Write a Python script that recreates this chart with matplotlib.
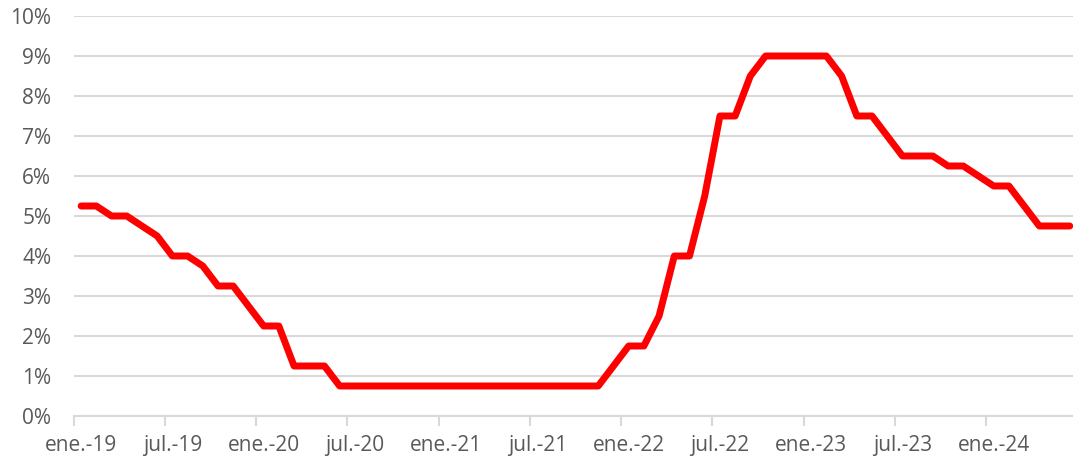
import numpy as np
import matplotlib
matplotlib.use('Agg')
import matplotlib.pyplot as plt
from matplotlib.ticker import FixedLocator, FuncFormatter

# monthly policy rate, ene.-19 to jun.-24 (%)
rate = [5.25, 5.25, 5.0, 5.0, 4.75, 4.5, 4.0, 4.0, 3.75, 3.25, 3.25, 2.75,
        2.25, 2.25, 1.25, 1.25, 1.25, 0.75, 0.75, 0.75, 0.75, 0.75, 0.75, 0.75,
        0.75, 0.75, 0.75, 0.75, 0.75, 0.75, 0.75, 0.75, 0.75, 0.75, 0.75, 1.25,
        1.75, 1.75, 2.5, 4.0, 4.0, 5.5, 7.5, 7.5, 8.5, 9.0, 9.0, 9.0,
        9.0, 9.0, 8.5, 7.5, 7.5, 7.0, 6.5, 6.5, 6.5, 6.25, 6.25, 6.0,
        5.75, 5.75, 5.25, 4.75, 4.75, 4.75]
xlabels = ['ene.-19', 'jul.-19', 'ene.-20', 'jul.-20', 'ene.-21', 'jul.-21',
           'ene.-22', 'jul.-22', 'ene.-23', 'jul.-23', 'ene.-24']

plt.rcParams['font.family'] = ['Open Sans', 'DejaVu Sans']
grey = '#595959'
gridc = '#d9d9d9'

W, H = 1073, 461
fig = plt.figure(figsize=(W / 100, H / 100), dpi=100)
n = len(rate)
cat_w = 15.21
ax = fig.add_axes([73.5 / W, 45 / H, n * cat_w / W, 400 / H])

x = np.arange(n)
ax.plot(x, rate, color='#ff0000', lw=5.0, solid_capstyle='round',
        solid_joinstyle='round', clip_on=False, zorder=3)

ax.set_xlim(-0.5, n - 0.5)
ax.set_ylim(0, 10)
ax.set_yticks(range(0, 11))
ax.yaxis.set_major_formatter(FuncFormatter(lambda v, p: f'{int(v)}%'))
ax.grid(axis='y', color=gridc, lw=1.5)
ax.set_axisbelow(True)

# ticks on category boundaries, labels on category centres
ax.xaxis.set_major_locator(FixedLocator(np.arange(0, n, 6) - 0.5))
ax.xaxis.set_major_formatter(FuncFormatter(lambda v, p: ''))
ax.xaxis.set_minor_locator(FixedLocator(np.arange(0, n, 6)))
ax.set_xticklabels(xlabels, minor=True)
ax.tick_params(axis='x', which='major', length=7, width=1.5, color=gridc)
ax.tick_params(axis='x', which='minor', length=0, pad=14, labelsize=15,
               labelcolor=grey)
ax.tick_params(axis='y', length=0, pad=16, labelsize=15, labelcolor=grey)

for s in ['top', 'right', 'left']:
    ax.spines[s].set_visible(False)
ax.spines['bottom'].set_color(gridc)
ax.spines['bottom'].set_linewidth(1.5)

fig.savefig('out.png', dpi=100)
